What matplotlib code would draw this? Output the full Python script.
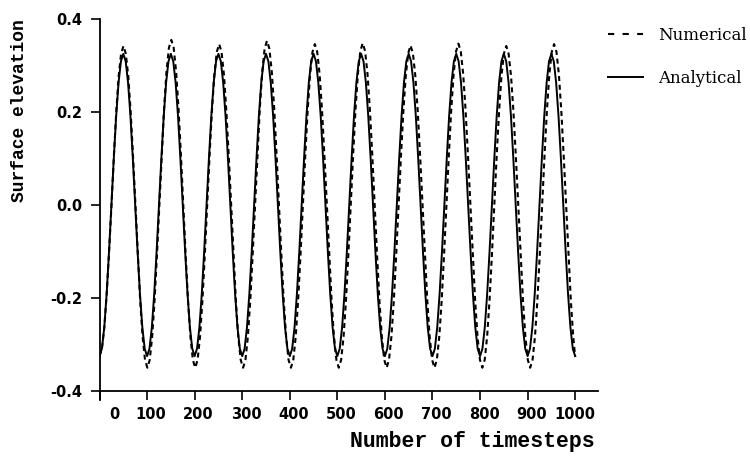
import matplotlib
matplotlib.use("Agg")
import matplotlib.pyplot as plt
import matplotlib.transforms as mtransforms

# ---------------- data ----------------
x_ticks = [0, 100, 200, 300, 400, 500, 600, 700, 800, 900, 1000]
x_tick_labels = ["0", "100", "200", "300", "400", "500", "600", "700", "800", "900", "1000"]
y_ticks = [-0.4, -0.2, 0.0, 0.2, 0.4]
y_tick_labels = ["-0.4", "-0.2", "0.0", "0.2", "0.4"]

analytical_t = list(range(0, 1001, 5))
analytical_eta = [
    -0.325, -0.309, -0.263, -0.191, -0.100, 0.000, 0.100, 0.191, 0.263, 0.309, 0.325, 0.309, 0.263, 0.191, 0.100, 0.000, -0.100, -0.191, -0.263, -0.309,
    -0.325, -0.309, -0.263, -0.191, -0.100, 0.000, 0.100, 0.191, 0.263, 0.309, 0.325, 0.309, 0.263, 0.191, 0.100, 0.000, -0.100, -0.191, -0.263, -0.309,
    -0.325, -0.309, -0.263, -0.191, -0.100, 0.000, 0.100, 0.191, 0.263, 0.309, 0.325, 0.309, 0.263, 0.191, 0.100, 0.000, -0.100, -0.191, -0.263, -0.309,
    -0.325, -0.309, -0.263, -0.191, -0.100, 0.000, 0.100, 0.191, 0.263, 0.309, 0.325, 0.309, 0.263, 0.191, 0.100, 0.000, -0.100, -0.191, -0.263, -0.309,
    -0.325, -0.309, -0.263, -0.191, -0.100, 0.000, 0.100, 0.191, 0.263, 0.309, 0.325, 0.309, 0.263, 0.191, 0.100, 0.000, -0.100, -0.191, -0.263, -0.309,
    -0.325, -0.309, -0.263, -0.191, -0.100, 0.000, 0.100, 0.191, 0.263, 0.309, 0.325, 0.309, 0.263, 0.191, 0.100, 0.000, -0.100, -0.191, -0.263, -0.309,
    -0.325, -0.309, -0.263, -0.191, -0.100, 0.000, 0.100, 0.191, 0.263, 0.309, 0.325, 0.309, 0.263, 0.191, 0.100, 0.000, -0.100, -0.191, -0.263, -0.309,
    -0.325, -0.309, -0.263, -0.191, -0.100, 0.000, 0.100, 0.191, 0.263, 0.309, 0.325, 0.309, 0.263, 0.191, 0.100, 0.000, -0.100, -0.191, -0.263, -0.309,
    -0.325, -0.309, -0.263, -0.191, -0.100, 0.000, 0.100, 0.191, 0.263, 0.309, 0.325, 0.309, 0.263, 0.191, 0.100, 0.000, -0.100, -0.191, -0.263, -0.309,
    -0.325, -0.309, -0.263, -0.191, -0.100, 0.000, 0.100, 0.191, 0.263, 0.309, 0.325, 0.309, 0.263, 0.191, 0.100, 0.000, -0.100, -0.191, -0.263, -0.309,
    -0.325,
]

numerical_t = [
    0.0, 5.0, 10.1, 15.1, 20.1, 25.2, 30.2, 35.2, 40.2, 45.3, 50.3, 55.3, 60.4, 65.4, 70.4, 75.5, 80.5, 85.5, 90.5, 95.6,
    100.6, 105.6, 110.7, 115.7, 120.7, 125.8, 130.8, 135.8, 140.8, 145.9, 150.9, 155.9, 161.0, 166.0, 171.0, 176.1, 181.1, 186.1, 191.1, 196.2,
    201.2, 206.2, 211.3, 216.3, 221.3, 226.4, 231.4, 236.4, 241.4, 246.5, 251.5, 256.5, 261.6, 266.6, 271.6, 276.7, 281.7, 286.7, 291.7, 296.8,
    301.8, 306.8, 311.9, 316.9, 321.9, 327.0, 332.0, 337.0, 342.0, 347.1, 352.1, 357.1, 362.2, 367.2, 372.2, 377.3, 382.3, 387.3, 392.3, 397.4,
    402.4, 407.4, 412.5, 417.5, 422.5, 427.6, 432.6, 437.6, 442.6, 447.7, 452.7, 457.7, 462.8, 467.8, 472.8, 477.9, 482.9, 487.9, 492.9, 498.0,
    503.0, 508.0, 513.1, 518.1, 523.1, 528.2, 533.2, 538.2, 543.2, 548.3, 553.3, 558.3, 563.4, 568.4, 573.4, 578.5, 583.5, 588.5, 593.5, 598.6,
    603.6, 608.6, 613.7, 618.7, 623.7, 628.8, 633.8, 638.8, 643.8, 648.9, 653.9, 658.9, 664.0, 669.0, 674.0, 679.1, 684.1, 689.1, 694.1, 699.2,
    704.2, 709.2, 714.3, 719.3, 724.3, 729.4, 734.4, 739.4, 744.4, 749.5, 754.5, 759.5, 764.6, 769.6, 774.6, 779.7, 784.7, 789.7, 794.7, 799.8,
    804.8, 809.8, 814.9, 819.9, 824.9, 830.0, 835.0, 840.0, 845.0, 850.1, 855.1, 860.1, 865.2, 870.2, 875.2, 880.3, 885.3, 890.3, 895.3, 900.4,
    905.4, 910.4, 915.5, 920.5, 925.5, 930.6, 935.6, 940.6, 945.6, 950.7, 955.7, 960.7, 965.8, 970.8, 975.8, 980.9, 985.9, 990.9, 995.9,
    1000.0,
]
numerical_eta = [
    -0.325, -0.309, -0.263, -0.191, -0.100, 0.000, 0.106, 0.201, 0.277, 0.325, 0.342, 0.325, 0.277, 0.201, 0.106, 0.000, -0.108, -0.206, -0.283, -0.333,
    -0.350, -0.333, -0.283, -0.206, -0.108, 0.000, 0.110, 0.209, 0.287, 0.338, 0.355, 0.338, 0.287, 0.209, 0.110, 0.000, -0.108, -0.206, -0.283, -0.333,
    -0.350, -0.333, -0.283, -0.206, -0.108, 0.000, 0.107, 0.203, 0.280, 0.329, 0.346, 0.329, 0.280, 0.203, 0.107, 0.000, -0.108, -0.206, -0.283, -0.333,
    -0.350, -0.333, -0.283, -0.206, -0.108, 0.000, 0.109, 0.208, 0.286, 0.336, 0.353, 0.336, 0.286, 0.208, 0.109, 0.000, -0.108, -0.206, -0.283, -0.333,
    -0.350, -0.333, -0.283, -0.206, -0.108, 0.000, 0.107, 0.203, 0.280, 0.329, 0.346, 0.329, 0.280, 0.203, 0.107, 0.000, -0.108, -0.206, -0.283, -0.333,
    -0.350, -0.333, -0.283, -0.206, -0.108, 0.000, 0.108, 0.205, 0.282, 0.331, 0.348, 0.331, 0.282, 0.205, 0.108, 0.000, -0.108, -0.206, -0.283, -0.333,
    -0.350, -0.333, -0.283, -0.206, -0.108, 0.000, 0.106, 0.202, 0.277, 0.326, 0.343, 0.326, 0.277, 0.202, 0.106, 0.000, -0.108, -0.206, -0.283, -0.333,
    -0.350, -0.333, -0.283, -0.206, -0.108, 0.000, 0.107, 0.204, 0.281, 0.330, 0.347, 0.330, 0.281, 0.204, 0.107, 0.000, -0.108, -0.206, -0.283, -0.333,
    -0.350, -0.333, -0.283, -0.206, -0.108, 0.000, 0.106, 0.201, 0.277, 0.325, 0.342, 0.325, 0.277, 0.201, 0.106, 0.000, -0.108, -0.206, -0.283, -0.333,
    -0.350, -0.333, -0.283, -0.206, -0.108, 0.000, 0.107, 0.203, 0.280, 0.329, 0.346, 0.329, 0.280, 0.203, 0.107, 0.000, -0.108, -0.206, -0.283,
    -0.326,
]

series_labels = ["Numerical", "Analytical"]

# ---------------- figure ----------------
fig = plt.figure(figsize=(7.5, 4.58), dpi=100)
ax = fig.add_axes([0.1327, 0.1266, 0.664, 0.832])

ln_num, = ax.plot(numerical_t, numerical_eta, color="black", lw=1.5,
                  linestyle=(0, (2.4, 1.8)), label=series_labels[0])
ln_ana, = ax.plot(analytical_t, analytical_eta, color="black", lw=1.4,
                  linestyle="-", label=series_labels[1])

ax.set_xlim(0, 1047)
ax.set_ylim(-0.4194, 0.4)

for s in ("top", "right"):
    ax.spines[s].set_visible(False)
ax.spines["bottom"].set_position(("data", -0.4))
ax.spines["left"].set_linewidth(1.3)
ax.spines["bottom"].set_linewidth(1.3)

tick_font = dict(family="DejaVu Sans", size=10.5, weight="bold")
ax.set_xticks(x_ticks)
ax.set_xticklabels(x_tick_labels, **tick_font)
ax.set_yticks(y_ticks)
ax.set_yticklabels(y_tick_labels, **tick_font)
ax.tick_params(axis="both", direction="out", length=6.5, width=1.2, colors="black")
ax.tick_params(axis="x", pad=5)
ax.tick_params(axis="y", pad=6)

# small rightward shifts of the x tick labels as in the reference
shifts_px = [15, 4, 4, 4, 4, 4, 4, 4, 4, 4, 0]
for lab, dx in zip(ax.get_xticklabels(), shifts_px):
    off = mtransforms.ScaledTranslation(dx / 100.0, 0, fig.dpi_scale_trans)
    lab.set_transform(lab.get_transform() + off)

fig.text(472 / 750, 1 - 442 / 458, "Number of timesteps", ha="center", va="center",
         family="Liberation Mono", weight="bold", size=15.5)
fig.text(20 / 750, 1 - 111 / 458, "Surface elevation", ha="center", va="center",
         rotation=90, family="Liberation Mono", weight="bold", size=13)

leg = fig.legend(handles=[ln_num, ln_ana], labels=series_labels,
                 loc="upper left", bbox_to_anchor=(608 / 750, 1 - 27 / 458),
                 frameon=False, borderpad=0, borderaxespad=0,
                 handlelength=2.1, handletextpad=0.9, labelspacing=1.55,
                 prop=dict(family="DejaVu Serif", size=12))
leg.get_lines()[0].set_linestyle((0, (3.0, 4.0)))

fig.savefig("out.png", dpi=100)
